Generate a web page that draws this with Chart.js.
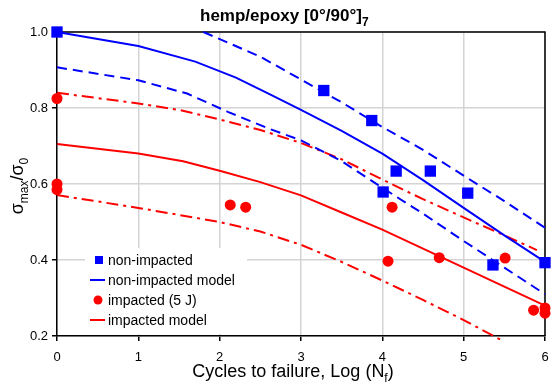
<!DOCTYPE html>
<html>
<head>
<meta charset="utf-8">
<script src="https://cdn.jsdelivr.net/npm/chart.js@4"></script>
<style>
body { margin: 0; background: #fff; }
</style>
</head>
<body>
<canvas id="fatigueChart" width="553" height="387"></canvas>
<script>
// measured points (log Nf, smax/s0)
let nonImpactedX = [0, 3.28, 3.87, 4.01, 4.17, 4.59, 5.05, 5.36, 6]
let nonImpactedY = [1.0, 0.846, 0.767, 0.579, 0.634, 0.634, 0.576, 0.387, 0.393]
let impactedX = [0, 0, 0, 2.13, 2.32, 4.12, 4.07, 4.70, 5.51, 5.86, 6, 6]
let impactedY = [0.825, 0.600, 0.585, 0.545, 0.539, 0.539, 0.397, 0.406, 0.405, 0.268, 0.274, 0.260]

// model curves
let nonImpModelX = [0, 1, 1.7, 2.2, 2.6, 3, 3.5, 4, 4.5, 5, 5.5, 6]
let nonImpModelY = [1.0, 0.963, 0.922, 0.88, 0.838, 0.795, 0.74, 0.68, 0.61, 0.537, 0.465, 0.395]
let nonImpUpperX = [1.8, 2.5, 3, 3.5, 4, 4.5, 5, 5.5, 6]
let nonImpUpperY = [1.0, 0.935, 0.875, 0.815, 0.75, 0.69, 0.622, 0.555, 0.485]
let nonImpLowerX = [0, 1, 1.6, 2.1, 2.6, 3, 3.5, 4, 4.5, 5, 5.5, 6]
let nonImpLowerY = [0.907, 0.873, 0.838, 0.79, 0.746, 0.715, 0.66, 0.59, 0.522, 0.45, 0.38, 0.31]

let impModelX = [0, 1, 1.55, 2, 2.5, 3, 3.5, 4, 4.5, 5, 5.5, 6]
let impModelY = [0.705, 0.68, 0.66, 0.635, 0.605, 0.57, 0.525, 0.48, 0.43, 0.38, 0.33, 0.28]
let impUpperX = [0, 1, 1.5, 2, 2.5, 3, 3.5, 4, 4.5, 5, 5.5, 5.9]
let impUpperY = [0.84, 0.812, 0.795, 0.77, 0.742, 0.708, 0.665, 0.612, 0.56, 0.512, 0.465, 0.426]
let impLowerX = [0, 1, 2, 2.5, 3, 3.5, 4, 4.5, 5, 5.5]
let impLowerY = [0.571, 0.537, 0.5, 0.475, 0.44, 0.395, 0.346, 0.295, 0.242, 0.185]

let xTicks = [0, 1, 2, 3, 4, 5, 6]
let yTicks = [0.2, 0.4, 0.6, 0.8, 1.0]

const BLUE = "#0000ff"
const RED = "#ff0000"
const FONT = "'Liberation Sans', Arial, sans-serif"

function pts(xs, ys) {
	let out = []
	for(let i = 0; i < xs.length; ++i) out.push({x: xs[i], y: ys[i]})
	return out
}

function lineSet(xs, ys, color, dash, clip) {
	return {
		data: pts(xs, ys),
		showLine: true,
		borderColor: color,
		borderWidth: 2,
		borderDash: dash,
		pointRadius: 0,
		fill: false,
		tension: 0,
		clip: clip
	}
}

// text with subscripts: parts = [[text, isSub], ...]
function drawRich(ctx, parts, x, y, size, bold, align) {
	let base = (bold ? "bold " : "") + size + "px " + FONT
	let sub = (bold ? "bold " : "") + Math.round(size * 0.68) + "px " + FONT
	let total = 0
	for(let p of parts) {
		ctx.font = p[1] ? sub : base
		total += ctx.measureText(p[0]).width
	}
	let cx = align === "center" ? x - total / 2 : x
	ctx.textAlign = "left"
	ctx.textBaseline = "alphabetic"
	for(let p of parts) {
		ctx.font = p[1] ? sub : base
		ctx.fillText(p[0], cx, p[1] ? y + size * 0.28 : y)
		cx += ctx.measureText(p[0]).width
	}
}

const decor = {
	id: "decor",
	beforeDatasetsDraw(chart) {
		let ctx = chart.ctx
		let a = chart.chartArea
		ctx.save()
		ctx.strokeStyle = "#000"
		ctx.lineWidth = 1.5
		ctx.beginPath()
		ctx.moveTo(a.left, a.top)
		ctx.lineTo(a.right, a.top)
		ctx.lineTo(a.right, a.bottom)
		ctx.stroke()
		ctx.restore()
	},
	afterDraw(chart) {
		let ctx = chart.ctx
		ctx.save()
		ctx.fillStyle = "#000"
		drawRich(ctx, [["hemp/epoxy [0°/90°]", false], ["7", true]], 200, 21, 17, true, "left")
		drawRich(ctx, [["Cycles to failure, Log (N", false], ["f", true], [")", false]], 293, 377, 18, false, "center")
		ctx.translate(23, 186)
		ctx.rotate(-Math.PI / 2)
		drawRich(ctx, [["σ", false], ["max", true], ["/σ", false], ["0", true]], 0, 0, 18, false, "center")
		ctx.restore()

		// legend
		ctx.save()
		ctx.fillStyle = "#fff"
		ctx.fillRect(85, 248, 162, 86)
		let rows = [260, 280, 300, 320]
		ctx.fillStyle = BLUE
		ctx.fillRect(95, rows[0] - 4, 8, 8)
		ctx.strokeStyle = BLUE
		ctx.lineWidth = 2
		ctx.beginPath(); ctx.moveTo(90, rows[1]); ctx.lineTo(105, rows[1]); ctx.stroke()
		ctx.fillStyle = RED
		ctx.beginPath(); ctx.arc(98, rows[2], 4.5, 0, Math.PI * 2); ctx.fill()
		ctx.strokeStyle = RED
		ctx.beginPath(); ctx.moveTo(90, rows[3]); ctx.lineTo(105, rows[3]); ctx.stroke()
		ctx.fillStyle = "#000"
		ctx.font = "14px " + FONT
		ctx.textAlign = "left"
		ctx.textBaseline = "middle"
		let names = ["non-impacted", "non-impacted model", "impacted (5 J)", "impacted model"]
		for(let i = 0; i < names.length; ++i) ctx.fillText(names[i], 108, rows[i] + 1)
		ctx.restore()
	}
}

new Chart(document.getElementById("fatigueChart"), {
	type: "scatter",
	data: {
		datasets: [
			{
				label: "non-impacted",
				data: pts(nonImpactedX, nonImpactedY),
				pointStyle: "rect",
				pointRadius: 8,
				backgroundColor: BLUE,
				borderWidth: 0,
				clip: false
			},
			{
				label: "impacted (5 J)",
				data: pts(impactedX, impactedY),
				pointStyle: "circle",
				pointRadius: 5.5,
				backgroundColor: RED,
				borderWidth: 0,
				clip: false
			},
			lineSet(nonImpModelX, nonImpModelY, BLUE, [], 4),
			lineSet(nonImpUpperX, nonImpUpperY, BLUE, [10, 6], 4),
			lineSet(nonImpLowerX, nonImpLowerY, BLUE, [10, 6], 4),
			lineSet(impModelX, impModelY, RED, [], 4),
			lineSet(impUpperX, impUpperY, RED, [12, 5, 3, 5], 4),
			lineSet(impLowerX, impLowerY, RED, [12, 5, 3, 5], 12)
		]
	},
	options: {
		responsive: false,
		animation: false,
		layout: {padding: {top: 32, right: 8, left: 0, bottom: 0}},
		plugins: {
			legend: {display: false},
			title: {display: false},
			tooltip: {enabled: false}
		},
		scales: {
			x: {
				type: "linear",
				min: 0,
				max: 6,
				afterFit: (s) => { s.height = 51; s.paddingLeft = 0; s.paddingRight = 0 },
				afterBuildTicks: (s) => { s.ticks = xTicks.map(v => ({value: v})) },
				ticks: {color: "#000", font: {family: FONT, size: 13}, padding: 9},
				grid: {color: "#d4d4d4", lineWidth: 1.5, tickColor: "#000", tickLength: 5},
				border: {color: "#000", width: 1.5}
			},
			y: {
				min: 0.2,
				max: 1.0,
				afterFit: (s) => { s.width = 57; s.paddingTop = 0; s.paddingBottom = 0 },
				afterBuildTicks: (s) => { s.ticks = yTicks.map(v => ({value: v})) },
				ticks: {color: "#000", font: {family: FONT, size: 13}, padding: 4,
					callback: (v) => v.toFixed(1)},
				grid: {color: "#d4d4d4", lineWidth: 1.5, tickColor: "#000", tickLength: 5},
				border: {color: "#000", width: 1.5}
			}
		}
	},
	plugins: [decor]
});
</script>
</body>
</html>
